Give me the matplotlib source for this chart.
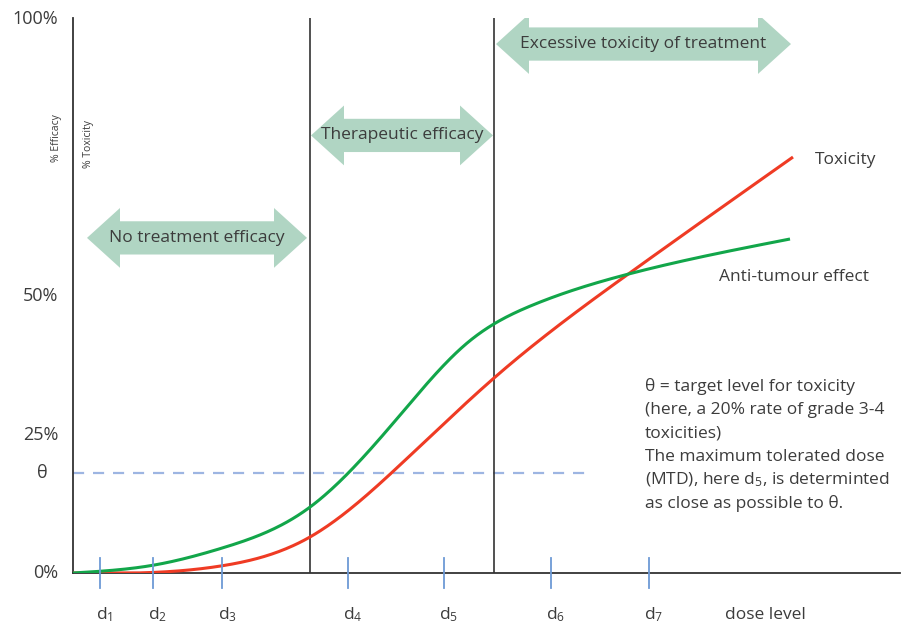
import numpy as np
import matplotlib.pyplot as plt
from matplotlib.patches import Polygon

plt.rcParams['font.family'] = ['Open Sans', 'DejaVu Sans']
plt.rcParams['mathtext.fontset'] = 'custom'
plt.rcParams['mathtext.rm'] = 'Open Sans'
plt.rcParams['mathtext.default'] = 'regular'

# dose axis positions (arbitrary dose scale)
dose_labels = ['d$_1$', 'd$_2$', 'd$_3$', 'd$_4$', 'd$_5$', 'd$_6$', 'd$_7$']
dose_pos = [100, 153, 222, 348, 444, 551, 649]

# curves (% of patients)
eff_x = [73, 153, 222, 310, 400, 467, 533, 629, 790]
eff_y = [0, 1.4, 4.5, 11.9, 28.5, 41.5, 48.4, 54.0, 60.3]
tox_x = [73, 153, 222, 310, 400, 494, 630, 793]
tox_y = [0, 0.1, 1.3, 6.5, 19.5, 35.2, 54.2, 75.1]

theta = 18
zone_edges = [310, 494]
ytick_vals = [0, 25, 50, 100]
ytick_labels = ['0%', '25%', '50%', '100%']

green = '#12a64a'
red = '#ef3b24'
arrow_col = '#b0d5c3'
grey = '#333333'
txt = '#3c3c3c'

fig = plt.figure(figsize=(9.03, 6.26), dpi=100)
ax = fig.add_axes([73 / 903, 53 / 626, 827 / 903, 555 / 626])
ax.set_xlim(73, 900)
ax.set_ylim(0, 100.2)
for s in ['top', 'right']:
    ax.spines[s].set_visible(False)
for s in ['left', 'bottom']:
    ax.spines[s].set_color(grey)
    ax.spines[s].set_linewidth(1.3)
ax.set_xticks([])
ax.set_yticks([])


def spline(xs, ys, n=400):
    # natural cubic spline through the read points
    xs = np.asarray(xs, float)
    ys = np.asarray(ys, float)
    k = len(xs)
    h = np.diff(xs)
    A = np.zeros((k, k))
    b = np.zeros(k)
    A[0, 0] = A[-1, -1] = 1
    for i in range(1, k - 1):
        A[i, i - 1] = h[i - 1]
        A[i, i] = 2 * (h[i - 1] + h[i])
        A[i, i + 1] = h[i]
        b[i] = 6 * ((ys[i + 1] - ys[i]) / h[i] - (ys[i] - ys[i - 1]) / h[i - 1])
    M = np.linalg.solve(A, b)
    t = np.linspace(xs[0], xs[-1], n)
    idx = np.clip(np.searchsorted(xs, t, side='right') - 1, 0, k - 2)
    x0, x1 = xs[idx], xs[idx + 1]
    hh = x1 - x0
    a = (x1 - t) / hh
    c = (t - x0) / hh
    out = (a * ys[idx] + c * ys[idx + 1]
           + ((a**3 - a) * M[idx] + (c**3 - c) * M[idx + 1]) * hh**2 / 6)
    return t, np.maximum(out, 0)


ax.plot(*spline(tox_x, tox_y), color=red, lw=2.2, zorder=3, solid_capstyle='butt')
ax.plot(*spline(eff_x, eff_y), color=green, lw=2.2, zorder=4, solid_capstyle='butt')

# target level
ax.plot([73, 588], [theta, theta], color='#9db5e2', lw=1.6, ls=(0, (5, 4)), zorder=1)

# zone boundaries
for xe in zone_edges:
    ax.axvline(xe, color=grey, lw=1.2, zorder=2)

# dose ticks
for xp, lab in zip(dose_pos, dose_labels):
    ax.plot([xp, xp], [-2.7, 2.7], color='#6d9ad6', lw=1.3, clip_on=False, zorder=5)
    ax.text(xp + 5, -7.6, lab, ha='center', va='center', fontsize=12.5, color=txt)
ax.text(725, -7.6, 'dose level', ha='left', va='center', fontsize=12.5, color=txt)

# y labels
for v, lab in zip(ytick_vals, ytick_labels):
    ax.text(58, v, lab, ha='right', va='center', fontsize=13, color=txt, clip_on=False)
ax.text(48, theta, 'θ', ha='right', va='center', fontsize=13, color=txt, clip_on=False)
ax.text(57, 78.5, '% Efficacy', rotation=90, ha='center', va='center', fontsize=7.5, color=txt)
ax.text(89, 77.5, '% Toxicity', rotation=90, ha='center', va='center', fontsize=7.5, color=txt)


def double_arrow(x0, x1, yc, text, head_len=33, head_h=5.4, shaft_h=3.0):
    pts = [(x0, yc), (x0 + head_len, yc + head_h), (x0 + head_len, yc + shaft_h),
           (x1 - head_len, yc + shaft_h), (x1 - head_len, yc + head_h), (x1, yc),
           (x1 - head_len, yc - head_h), (x1 - head_len, yc - shaft_h),
           (x0 + head_len, yc - shaft_h), (x0 + head_len, yc - head_h)]
    ax.add_patch(Polygon(pts, closed=True, color=arrow_col, lw=0, zorder=2))
    ax.text((x0 + x1) / 2, yc, text, ha='center', va='center', fontsize=12.5, color=txt, zorder=3)


double_arrow(87, 307, 60.5, 'No treatment efficacy')
double_arrow(311, 493, 79, 'Therapeutic efficacy')
double_arrow(496, 791, 95.5, 'Excessive toxicity of treatment')

# curve labels
ax.text(815, 74.5, 'Toxicity', ha='left', va='center', fontsize=12.5, color=txt)
ax.text(719, 53.5, 'Anti-tumour effect', ha='left', va='center', fontsize=12.5, color=txt)

note = ['θ = target level for toxicity',
        '(here, a 20% rate of grade 3-4',
        'toxicities)',
        'The maximum tolerated dose',
        '(MTD), here d$_5$, is determinted',
        'as close as possible to θ.']
for i, line in enumerate(note):
    ax.text(645, 33.6 - i * 4.2, line, ha='left', va='center', fontsize=12.5, color=txt)

fig.savefig('out.png', dpi=100)
